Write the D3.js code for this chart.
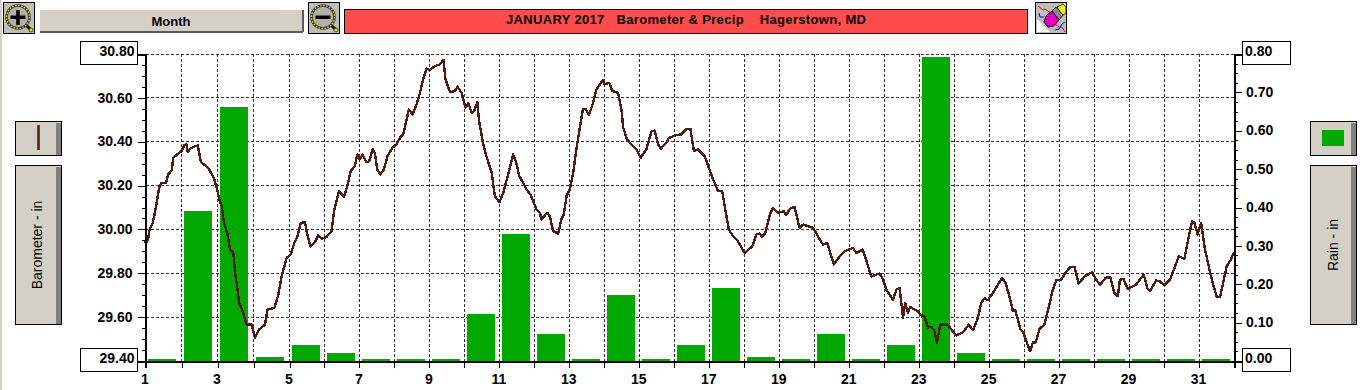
<!DOCTYPE html>
<html>
<head>
<meta charset="utf-8">
<script src="https://cdn.jsdelivr.net/npm/d3@7"></script>
<style>
  html, body { margin: 0; padding: 0; background: #fff; overflow: hidden; }
  text { font-family: "Liberation Sans", Arial, sans-serif; fill: #000; }
  .tick text { font-weight: bold; font-size: 14px; }
</style>
</head>
<body>
<svg id="chart" width="1365" height="390"></svg>
<script>
const title = "JANUARY 2017   Barometer & Precip    Hagerstown, MD"
const periodLabel = "Month"
const leftLabel = "Barometer - in"
const rightLabel = "Rain - in"

const days = d3.range(1, 33)
const barDays = d3.range(1, 32)
const rainValues = [0, 0.39, 0.66, 0.01, 0.04, 0.02, 0, 0, 0, 0.12, 0.33, 0.07, 0, 0.17, 0, 0.04,
  0.19, 0.01, 0, 0.07, 0, 0.04, 0.79, 0.02, 0, 0, 0, 0, 0, 0, 0]

const baroTicks = [29.4, 29.6, 29.8, 30.0, 30.2, 30.4, 30.6, 30.8]
const rainTicks = [0, 0.1, 0.2, 0.3, 0.4, 0.5, 0.6, 0.7, 0.8]

// day of month (fractional) / inches
const baroDays = [1.00, 1.01, 1.08, 1.11, 1.20, 1.25, 1.31, 1.38, 1.45, 1.57, 1.63, 1.73, 1.77, 1.91, 2.00, 2.08, 2.14, 2.17, 2.24, 2.38,
  2.45, 2.50, 2.54, 2.65, 2.76, 2.90, 2.99, 3.05, 3.12, 3.18, 3.27, 3.35, 3.44, 3.49, 3.55, 3.60, 3.70, 3.81, 3.95, 4.04,
  4.15, 4.32, 4.39, 4.58, 4.69, 4.78, 4.92, 5.03, 5.14, 5.23, 5.32, 5.44, 5.52, 5.60, 5.73, 5.82, 5.92, 6.06, 6.20, 6.28,
  6.41, 6.56, 6.65, 6.75, 6.87, 6.94, 7.01, 7.09, 7.20, 7.28, 7.38, 7.44, 7.51, 7.59, 7.70, 7.80, 7.94, 8.06, 8.18, 8.25,
  8.35, 8.41, 8.52, 8.63, 8.73, 8.82, 8.92, 9.01, 9.16, 9.30, 9.40, 9.46, 9.59, 9.73, 9.80, 9.92, 10.03, 10.11, 10.21, 10.28,
  10.37, 10.42, 10.54, 10.63, 10.78, 10.87, 11.00, 11.11, 11.25, 11.39, 11.47, 11.57, 11.68, 11.78, 11.89, 12.06, 12.16, 12.20, 12.37, 12.44,
  12.54, 12.68, 12.77, 12.84, 12.92, 13.01, 13.11, 13.20, 13.30, 13.39, 13.47, 13.56, 13.68, 13.77, 13.95, 14.01, 14.14, 14.23, 14.39, 14.49,
  14.54, 14.65, 14.77, 14.92, 15.04, 15.20, 15.35, 15.44, 15.54, 15.61, 15.77, 15.85, 16.06, 16.20, 16.35, 16.46, 16.56, 16.68, 16.87, 16.97,
  17.11, 17.25, 17.37, 17.44, 17.56, 17.68, 17.82, 18.01, 18.23, 18.35, 18.44, 18.51, 18.60, 18.73, 18.82, 18.97, 19.13, 19.20, 19.30, 19.44,
  19.58, 19.68, 19.97, 20.16, 20.25, 20.37, 20.56, 20.73, 20.87, 21.11, 21.20, 21.39, 21.54, 21.63, 21.87, 21.97, 22.06, 22.25, 22.35, 22.44,
  22.54, 22.60, 22.68, 22.74, 22.96, 23.06, 23.15, 23.25, 23.36, 23.44, 23.51, 23.60, 23.82, 23.92, 24.06, 24.25, 24.42, 24.54, 24.68, 24.77,
  24.87, 24.96, 25.11, 25.25, 25.37, 25.47, 25.58, 25.68, 25.75, 25.89, 25.98, 26.17, 26.25, 26.33, 26.44, 26.58, 26.70, 26.82, 26.92, 27.06,
  27.20, 27.32, 27.44, 27.56, 27.73, 27.94, 28.06, 28.17, 28.33, 28.46, 28.58, 28.68, 28.74, 28.84, 28.96, 29.20, 29.42, 29.52, 29.60, 29.77,
  29.87, 30.01, 30.17, 30.30, 30.42, 30.58, 30.68, 30.80, 30.87, 30.96, 31.06, 31.17, 31.30, 31.39, 31.51, 31.60, 31.70, 31.79, 31.91, 32.00]

const baroValues = [29.946, 29.936, 29.961, 29.999, 30.030, 30.068, 30.121, 30.190, 30.213, 30.213, 30.251, 30.270, 30.327, 30.346, 30.357, 30.384, 30.388, 30.353, 30.368, 30.380,
  30.383, 30.342, 30.307, 30.293, 30.276, 30.235, 30.182, 30.136, 30.106, 30.030, 29.984, 29.908, 29.893, 29.802, 29.733, 29.665, 29.627, 29.566, 29.566, 29.505,
  29.543, 29.566, 29.634, 29.642, 29.703, 29.786, 29.870, 29.885, 29.939, 29.969, 30.030, 30.033, 29.969, 29.923, 29.942, 29.972, 29.957, 29.966, 29.992, 30.091,
  30.174, 30.149, 30.197, 30.266, 30.289, 30.342, 30.319, 30.342, 30.307, 30.311, 30.368, 30.349, 30.273, 30.251, 30.273, 30.334, 30.372, 30.388, 30.423, 30.433,
  30.502, 30.547, 30.525, 30.570, 30.623, 30.684, 30.733, 30.727, 30.745, 30.753, 30.773, 30.684, 30.626, 30.631, 30.651, 30.623, 30.555, 30.575, 30.532, 30.540,
  30.581, 30.494, 30.388, 30.334, 30.258, 30.152, 30.124, 30.167, 30.251, 30.342, 30.311, 30.243, 30.213, 30.182, 30.159, 30.091, 30.076, 30.045, 30.076, 30.060,
  29.992, 29.981, 30.045, 30.068, 30.152, 30.182, 30.258, 30.365, 30.464, 30.550, 30.550, 30.521, 30.578, 30.636, 30.681, 30.661, 30.669, 30.631, 30.623, 30.547,
  30.464, 30.410, 30.388, 30.365, 30.327, 30.365, 30.448, 30.451, 30.388, 30.368, 30.395, 30.418, 30.430, 30.433, 30.459, 30.459, 30.357, 30.365, 30.334, 30.289,
  30.228, 30.174, 30.174, 30.106, 29.999, 29.969, 29.946, 29.893, 29.923, 29.977, 29.981, 29.966, 29.984, 30.068, 30.098, 30.076, 30.083, 30.065, 30.094, 30.103,
  30.007, 30.022, 30.007, 29.954, 29.931, 29.939, 29.840, 29.878, 29.900, 29.916, 29.893, 29.908, 29.832, 29.786, 29.799, 29.771, 29.725, 29.680, 29.725, 29.733,
  29.596, 29.665, 29.619, 29.646, 29.627, 29.608, 29.604, 29.553, 29.555, 29.535, 29.482, 29.566, 29.566, 29.543, 29.517, 29.531, 29.566, 29.540, 29.596, 29.665,
  29.687, 29.677, 29.710, 29.748, 29.779, 29.756, 29.695, 29.627, 29.631, 29.546, 29.528, 29.444, 29.485, 29.485, 29.546, 29.566, 29.642, 29.725, 29.768, 29.771,
  29.805, 29.829, 29.829, 29.753, 29.786, 29.805, 29.771, 29.748, 29.779, 29.783, 29.710, 29.695, 29.771, 29.774, 29.729, 29.748, 29.794, 29.733, 29.718, 29.767,
  29.764, 29.745, 29.771, 29.824, 29.878, 29.866, 29.946, 30.037, 30.030, 29.977, 30.030, 29.908, 29.817, 29.756, 29.692, 29.692, 29.764, 29.832, 29.862, 29.896]

const panelGrey = "#d4d0c8"
const shadowGrey = "#808080"
const iconGrey = "#bebebe"
const barGreen = "#00a800"
const lineBrown = "#4e1c12"
const gridColor = "#333333"

const svg = d3.select("#chart")

const plotTop = 54
const plotBottom = 361
const plotLeft = 145.5
const plotRight = 1234

// day spacing in the original is not quite even, 36px early on then 35px
const x = d3.scaleLinear().domain([1, 5, 32]).range([plotLeft, 289.5, plotRight])
const yBaro = d3.scaleLinear().domain([29.4, 30.8]).range([plotBottom, plotTop])
const yRain = d3.scaleLinear().domain([0, 0.8]).range([plotBottom, plotTop])

svg.append("rect").attr("x", 0).attr("y", 0).attr("width", 2).attr("height", 390).attr("fill", panelGrey)

// ---- grid
const grid = svg.append("g").attr("class", "grid")
  .attr("stroke", gridColor).attr("stroke-width", 1).attr("stroke-dasharray", "3,2")
  .attr("shape-rendering", "crispEdges")

grid.selectAll(".h").data(baroTicks.slice(1)).join("line")
  .attr("class", "h")
  .attr("x1", plotLeft).attr("x2", plotRight)
  .attr("y1", d => yBaro(d)).attr("y2", d => yBaro(d))

grid.selectAll(".v").data(days.slice(1, -1)).join("line")
  .attr("class", "v")
  .attr("x1", d => x(d)).attr("x2", d => x(d))
  .attr("y1", plotTop).attr("y2", plotBottom)

// ---- rain bars
const rainData = barDays.map((d, i) => ({ day: d, rain: rainValues[i] }))
const barTop = d => Math.floor(plotBottom - Math.max(plotBottom - yRain(d.rain), 1.5))

svg.append("g").attr("class", "bars")
  .selectAll("rect").data(rainData).join("rect")
  .attr("x", d => Math.round(x(d.day) + 2.5))
  .attr("width", 28)
  .attr("y", barTop)
  .attr("height", d => plotBottom - barTop(d))
  .attr("fill", barGreen)
  .attr("shape-rendering", "crispEdges")

// ---- barometer line
const baroLine = d3.line().x(d => x(d[0])).y(d => yBaro(d[1]))

svg.append("path")
  .datum(d3.zip(baroDays, baroValues))
  .attr("class", "baro")
  .attr("d", baroLine)
  .attr("fill", "none")
  .attr("stroke", lineBrown)
  .attr("stroke-width", 2.4)
  .attr("stroke-linejoin", "round")
  .attr("shape-rendering", "crispEdges")

// ---- axes
function styleAxis(g) {
  g.selectAll("path, line").attr("stroke", "#000").attr("stroke-width", 1).attr("shape-rendering", "crispEdges")
  g.select(".domain").attr("stroke-width", 2)
}

const minorLeft = d3.axisLeft(yBaro).tickValues(d3.range(0, 29).map(i => 29.4 + i * 0.05)).tickSize(4).tickFormat("")
const minorRight = d3.axisRight(yRain).tickValues(d3.range(0, 33).map(i => i * 0.025)).tickSize(4).tickFormat("")

svg.append("g").attr("transform", `translate(${plotLeft},0)`).call(minorLeft).call(styleAxis)
svg.append("g").attr("transform", `translate(${plotRight},0)`).call(minorRight).call(styleAxis)

const leftAxis = svg.append("g").attr("transform", `translate(${plotLeft},0)`)
  .call(d3.axisLeft(yBaro).tickValues(baroTicks).tickSize(8).tickPadding(5).tickFormat(d3.format(".2f")))
  .call(styleAxis)

const rightAxis = svg.append("g").attr("transform", `translate(${plotRight},0)`)
  .call(d3.axisRight(yRain).tickValues(rainTicks).tickSize(8).tickPadding(4).tickFormat(d3.format(".2f")))
  .call(styleAxis)

const bottomAxis = svg.append("g").attr("transform", `translate(0,${plotBottom})`)
  .call(d3.axisBottom(x).tickValues(days).tickSize(7).tickPadding(3).tickFormat(d => d % 2 ? d : ""))
  .call(styleAxis)
bottomAxis.selectAll("text").attr("dy", "0.9em")
bottomAxis.selectAll(".tick text").attr("x", -1)

leftAxis.selectAll("text").attr("dy", "0.3em")
rightAxis.selectAll("text").attr("dy", "0.3em")

// first/last labels sit in white boxes
function endBox(parent, bx, by, bw, bh) {
  parent.insert("rect", "text")
    .attr("x", bx).attr("y", by).attr("width", bw).attr("height", bh)
    .attr("fill", "#fff").attr("stroke", "#000").attr("stroke-width", 1)
    .attr("shape-rendering", "crispEdges")
}
leftAxis.selectAll(".tick").filter(d => d === 29.4 || d === 30.8).each(function (d) {
  const t = d3.select(this)
  endBox(t, -65, -13, 56.5, 23)
  t.select("text").attr("x", -11).attr("y", -2.5)
})
rightAxis.selectAll(".tick").filter(d => d === 0 || d === 0.8).each(function (d) {
  const t = d3.select(this)
  endBox(t, 8, -13, 48, 23)
  t.select("text").attr("x", 11).attr("y", -2.5)
})

// ---- header buttons
function button(bx, by, bw, bh) {
  const g = svg.append("g").attr("shape-rendering", "crispEdges")
  g.append("rect").attr("x", bx).attr("y", by).attr("width", bw).attr("height", bh).attr("fill", panelGrey)
  g.append("rect").attr("x", bx).attr("y", by + bh - 1).attr("width", bw).attr("height", 2).attr("fill", "#5a5a5a")
  g.append("rect").attr("x", bx + bw - 1).attr("y", by).attr("width", 2).attr("height", bh).attr("fill", "#5a5a5a")
  return g
}
button(39.5, 10, 263, 22)
svg.append("text").attr("x", 171).attr("y", 26).attr("text-anchor", "middle")
  .style("font-size", "13px").style("font-weight", "bold").text(periodLabel)

svg.append("rect").attr("x", 344.5).attr("y", 9.5).attr("width", 683).attr("height", 24)
  .attr("fill", "#ff4d4d").attr("stroke", "#000").attr("stroke-width", 1).attr("shape-rendering", "crispEdges")
svg.append("text").attr("x", 506).attr("y", 24)
  .style("white-space", "pre").style("font-size", "13px").style("font-weight", "bold")
  .attr("textLength", 360).attr("lengthAdjust", "spacing")
  .text(title)

// ---- magnifier icons
function magnifier(ox, sign) {
  const g = svg.append("g").attr("transform", `translate(${ox},2)`)
  g.append("rect").attr("x", 0.5).attr("y", 0.5).attr("width", 31).attr("height", 31)
    .attr("fill", iconGrey).attr("stroke", "#000").attr("shape-rendering", "crispEdges")
  g.append("line").attr("x1", 23).attr("y1", 23).attr("x2", 29).attr("y2", 29)
    .attr("stroke", "#000").attr("stroke-width", 3)
  g.append("circle").attr("cx", 28).attr("cy", 28).attr("r", 2).attr("fill", "#e8e800").attr("stroke", "#000").attr("stroke-width", 0.6)
  g.append("circle").attr("cx", 15).attr("cy", 15).attr("r", 11.5)
    .attr("fill", "#b0b0a8").attr("stroke", "#333").attr("stroke-width", 2.6)
  g.append("circle").attr("cx", 15).attr("cy", 15).attr("r", 11.5)
    .attr("fill", "none").attr("stroke", "#e8e800").attr("stroke-width", 1.4).attr("stroke-dasharray", "1.5,1.5")
  g.append("rect").attr("x", 7.5).attr("y", 13.5).attr("width", 15).attr("height", 3.5).attr("fill", "#000")
  if (sign > 0) g.append("rect").attr("x", 13.2).attr("y", 8).attr("width", 3.5).attr("height", 15).attr("fill", "#000")
}
magnifier(3, 1)
magnifier(308, -1)

// ---- eraser icon
const eraser = svg.append("g").attr("transform", "translate(1035,2)")
eraser.append("rect").attr("x", 0.5).attr("y", 0.5).attr("width", 31).attr("height", 31)
  .attr("fill", iconGrey).attr("stroke", "#000").attr("shape-rendering", "crispEdges")
eraser.append("path").attr("d", "M2,30 L2,17 L15,30 Z").attr("fill", "#fff")
eraser.append("path").attr("d", "M25,2 L31,2 L31,8 Z").attr("fill", "#fff")
eraser.append("path").attr("d", "M3,4 L8,8 L10,7 L16,11").attr("fill", "none").attr("stroke", "#f00000").attr("stroke-width", 1)
eraser.append("path").attr("d", "M20,22 L24,25 L27,25 L30,30").attr("fill", "none").attr("stroke", "#f00000").attr("stroke-width", 1)
eraser.append("path").attr("d", "M4,11 L5,15 L9,15").attr("fill", "none").attr("stroke", "#0000e0").attr("stroke-width", 1)
eraser.append("path").attr("d", "M20,28 L24,27 L27,22 L30,20").attr("fill", "none").attr("stroke", "#0000e0").attr("stroke-width", 1)
eraser.append("path").attr("d", "M22,5 L28,2 L31,5 L31,11 L27,14 Z").attr("fill", "#f5f000").attr("stroke", "#000").attr("stroke-width", 0.8)
eraser.append("path").attr("d", "M17,9 L21,5 L28,13 L24,18 Z").attr("fill", "#8a8a8a").attr("stroke", "#000").attr("stroke-width", 0.8)
eraser.append("path").attr("d", "M11,14 L17,9 L24,18 L19,24 L13,25 L9,20 Z").attr("fill", "#e800c0").attr("stroke", "#000").attr("stroke-width", 1)

// ---- side panels
function sidePanel(bx, by, bw, bh) {
  const g = svg.append("g").attr("shape-rendering", "crispEdges")
  g.append("rect").attr("x", bx + 0.5).attr("y", by + 0.5).attr("width", bw).attr("height", bh)
    .attr("fill", panelGrey).attr("stroke", "#000")
  g.append("rect").attr("x", bx + bw - 5).attr("y", by + 2).attr("width", 5).attr("height", bh - 2).attr("fill", shadowGrey)
}
sidePanel(15, 121, 46, 34)
sidePanel(15, 165, 46, 159)
sidePanel(1310, 121, 46, 34)
sidePanel(1310, 165, 46, 159)

svg.append("line").attr("x1", 38.5).attr("x2", 38.5).attr("y1", 125).attr("y2", 150)
  .attr("stroke", lineBrown).attr("stroke-width", 2.5)
svg.append("rect").attr("x", 1322).attr("y", 130).attr("width", 22).attr("height", 16).attr("fill", barGreen)

svg.append("text").attr("transform", "translate(42,245) rotate(-90)").attr("text-anchor", "middle")
  .style("font-size", "14px").text(leftLabel)
svg.append("text").attr("transform", "translate(1338,245) rotate(-90)").attr("text-anchor", "middle")
  .style("font-size", "14px").text(rightLabel)
</script>
</body>
</html>
